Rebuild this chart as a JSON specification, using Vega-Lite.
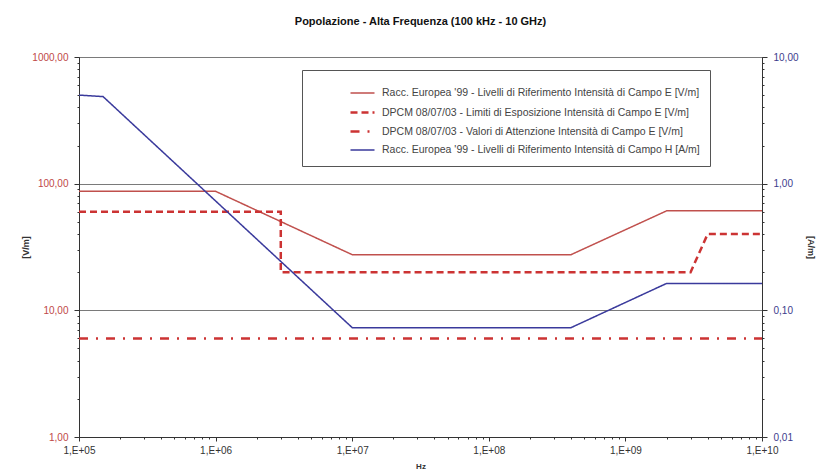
{
  "$schema": "https://vega.github.io/schema/vega-lite/v6.json",
  "width": 683,
  "height": 380,
  "autosize": {"type": "none"},
  "padding": {"left": 79, "top": 57, "right": 59, "bottom": 38},
  "background": "white",
  "title": {"text": "Popolazione - Alta Frequenza (100 kHz - 10 GHz)", "fontSize": 11, "fontWeight": "bold", "font": "Liberation Sans", "color": "#111", "offset": 25, "anchor": "middle"},
  "config": {
    "view": {"stroke": "#555", "strokeWidth": 1},
    "font": "Liberation Sans"
  },
  "data": {"values": [
    {"serie": "Racc. Europea '99 - Livelli di Riferimento Intensità di Campo E [V/m]", "i": 1, "f": 100000, "v": 87},
    {"serie": "Racc. Europea '99 - Livelli di Riferimento Intensità di Campo E [V/m]", "i": 2, "f": 1000000, "v": 87},
    {"serie": "Racc. Europea '99 - Livelli di Riferimento Intensità di Campo E [V/m]", "i": 3, "f": 10000000, "v": 27.5},
    {"serie": "Racc. Europea '99 - Livelli di Riferimento Intensità di Campo E [V/m]", "i": 4, "f": 400000000, "v": 27.5},
    {"serie": "Racc. Europea '99 - Livelli di Riferimento Intensità di Campo E [V/m]", "i": 5, "f": 2000000000, "v": 61},
    {"serie": "Racc. Europea '99 - Livelli di Riferimento Intensità di Campo E [V/m]", "i": 6, "f": 10000000000, "v": 61},
    {"serie": "DPCM 08/07/03 - Limiti di Esposizione Intensità di Campo E [V/m]", "i": 1, "f": 100000, "v": 60},
    {"serie": "DPCM 08/07/03 - Limiti di Esposizione Intensità di Campo E [V/m]", "i": 2, "f": 3000000, "v": 60},
    {"serie": "DPCM 08/07/03 - Limiti di Esposizione Intensità di Campo E [V/m]", "i": 3, "f": 3000000, "v": 20},
    {"serie": "DPCM 08/07/03 - Limiti di Esposizione Intensità di Campo E [V/m]", "i": 4, "f": 3000000000, "v": 20},
    {"serie": "DPCM 08/07/03 - Limiti di Esposizione Intensità di Campo E [V/m]", "i": 5, "f": 4000000000, "v": 40},
    {"serie": "DPCM 08/07/03 - Limiti di Esposizione Intensità di Campo E [V/m]", "i": 6, "f": 10000000000, "v": 40},
    {"serie": "DPCM 08/07/03 - Valori di Attenzione Intensità di Campo E [V/m]", "i": 1, "f": 100000, "v": 6},
    {"serie": "DPCM 08/07/03 - Valori di Attenzione Intensità di Campo E [V/m]", "i": 2, "f": 10000000000, "v": 6},
    {"serie": "Racc. Europea '99 - Livelli di Riferimento Intensità di Campo H [A/m]", "i": 1, "f": 100000, "v": 5},
    {"serie": "Racc. Europea '99 - Livelli di Riferimento Intensità di Campo H [A/m]", "i": 2, "f": 150000, "v": 4.87},
    {"serie": "Racc. Europea '99 - Livelli di Riferimento Intensità di Campo H [A/m]", "i": 3, "f": 1000000, "v": 0.73},
    {"serie": "Racc. Europea '99 - Livelli di Riferimento Intensità di Campo H [A/m]", "i": 4, "f": 10000000, "v": 0.073},
    {"serie": "Racc. Europea '99 - Livelli di Riferimento Intensità di Campo H [A/m]", "i": 5, "f": 400000000, "v": 0.073},
    {"serie": "Racc. Europea '99 - Livelli di Riferimento Intensità di Campo H [A/m]", "i": 6, "f": 2000000000, "v": 0.163},
    {"serie": "Racc. Europea '99 - Livelli di Riferimento Intensità di Campo H [A/m]", "i": 7, "f": 10000000000, "v": 0.163}
  ]},
  "encoding": {
    "x": {"field": "f", "type": "quantitative", "scale": {"type": "log", "domain": [100000, 10000000000], "nice": false},
      "axis": {"title": "Hz", "titleFontSize": 8, "titleFontWeight": "bold", "titleColor": "#333", "titlePadding": 7,
        "values": [100000,200000,300000,400000,500000,600000,700000,800000,900000,1000000,2000000,3000000,4000000,5000000,6000000,7000000,8000000,9000000,10000000,20000000,30000000,40000000,50000000,60000000,70000000,80000000,90000000,100000000,200000000,300000000,400000000,500000000,600000000,700000000,800000000,900000000,1000000000,2000000000,3000000000,4000000000,5000000000,6000000000,7000000000,8000000000,9000000000,10000000000],
        "labelExpr": "abs(log(datum.value)/LN10 - round(log(datum.value)/LN10)) < 0.001 ? '1,E+' + (round(log(datum.value)/LN10) < 10 ? '0' : '') + round(log(datum.value)/LN10) : ''",
        "labelFontSize": 10, "labelColor": "#333", "labelPadding": 4, "labelFlush": false, "labelOverlap": false,
        "grid": false, "domainColor": "#333", "tickColor": "#333",
        "tickSize": {"condition": {"test": "abs(log(datum.value)/LN10 - round(log(datum.value)/LN10)) < 0.001", "value": 4}, "value": 2}}},
    "order": {"field": "i", "type": "quantitative"},
    "color": {"field": "serie", "type": "nominal",
      "scale": {"domain": ["Racc. Europea '99 - Livelli di Riferimento Intensità di Campo E [V/m]", "DPCM 08/07/03 - Limiti di Esposizione Intensità di Campo E [V/m]", "DPCM 08/07/03 - Valori di Attenzione Intensità di Campo E [V/m]", "Racc. Europea '99 - Livelli di Riferimento Intensità di Campo H [A/m]"],
        "range": ["#c0504d", "#cc3333", "#cc3333", "#3a3a9c"]},
      "legend": {"title": null, "orient": "none", "legendX": 223, "legendY": 13, "strokeColor": "#555", "padding": 10, "symbolOffset": 37, "symbolSize": 576, "symbolType": "stroke", "labelFontSize": 10.5, "labelColor": "#444", "labelLimit": 0, "rowPadding": 0, "labelOffset": 6, "fillColor": "white"}},
    "strokeDash": {"field": "serie", "type": "nominal",
      "scale": {"domain": ["Racc. Europea '99 - Livelli di Riferimento Intensità di Campo E [V/m]", "DPCM 08/07/03 - Limiti di Esposizione Intensità di Campo E [V/m]", "DPCM 08/07/03 - Valori di Attenzione Intensità di Campo E [V/m]", "Racc. Europea '99 - Livelli di Riferimento Intensità di Campo H [A/m]"],
        "range": [[1, 0], [7, 4], [9, 8, 2, 8], [1, 0]]}},
    "strokeWidth": {"field": "serie", "type": "nominal",
      "scale": {"type": "ordinal", "domain": ["Racc. Europea '99 - Livelli di Riferimento Intensità di Campo E [V/m]", "DPCM 08/07/03 - Limiti di Esposizione Intensità di Campo E [V/m]", "DPCM 08/07/03 - Valori di Attenzione Intensità di Campo E [V/m]", "Racc. Europea '99 - Livelli di Riferimento Intensità di Campo H [A/m]"],
        "range": [1.5, 2.5, 2.5, 1.5]}}
  },
  "layer": [
    {
      "transform": [{"filter": "indexof(datum.serie, '[V/m]') >= 0"}],
      "mark": {"type": "line"},
      "encoding": {
        "y": {"field": "v", "type": "quantitative", "scale": {"type": "log", "domain": [1, 1000], "nice": false},
          "axis": {"orient": "left", "title": "[V/m]", "titleFontSize": 9, "titleFontWeight": "bold", "titleColor": "#333", "titleX": -49, "titleY": 190, "titleAngle": -90,
            "values": [1,2,3,4,5,6,7,8,9,10,20,30,40,50,60,70,80,90,100,200,300,400,500,600,700,800,900,1000],
            "labelExpr": "abs(log(datum.value)/LN10 - round(log(datum.value)/LN10)) < 0.001 ? replace(format(datum.value, '.2f'), '.', ',') : ''",
            "labelFontSize": 10, "labelColor": "#c04848", "labelPadding": 6, "labelFlush": false, "labelOverlap": false,
            "grid": true, "gridColor": "#7a7a7a", "gridWidth": 1,
            "gridOpacity": {"condition": {"test": "abs(log(datum.value)/LN10 - round(log(datum.value)/LN10)) < 0.001", "value": 1}, "value": 0},
            "domainColor": "#333", "tickColor": "#333",
            "tickSize": {"condition": {"test": "abs(log(datum.value)/LN10 - round(log(datum.value)/LN10)) < 0.001", "value": 5}, "value": 2}}}
      }
    },
    {
      "transform": [{"filter": "indexof(datum.serie, '[A/m]') >= 0"}],
      "mark": {"type": "line"},
      "encoding": {
        "y": {"field": "v", "type": "quantitative", "scale": {"type": "log", "domain": [0.01, 10], "nice": false},
          "axis": {"orient": "right", "title": "[A/m]", "titleFontSize": 9, "titleFontWeight": "bold", "titleColor": "#333", "titleX": 43, "titleY": 190, "titleAngle": 90,
            "values": [0.01,0.02,0.03,0.04,0.05,0.06,0.07,0.08,0.09,0.1,0.2,0.3,0.4,0.5,0.6,0.7,0.8,0.9,1,2,3,4,5,6,7,8,9,10],
            "labelExpr": "abs(log(datum.value)/LN10 - round(log(datum.value)/LN10)) < 0.001 ? replace(format(datum.value, '.2f'), '.', ',') : ''",
            "labelFontSize": 10, "labelColor": "#3c3c8c", "labelPadding": 6, "labelFlush": false, "labelOverlap": false,
            "grid": false, "domainColor": "#333", "tickColor": "#333",
            "tickSize": {"condition": {"test": "abs(log(datum.value)/LN10 - round(log(datum.value)/LN10)) < 0.001", "value": 5}, "value": 2}}}
      }
    }
  ],
  "resolve": {"scale": {"y": "independent"}}
}
